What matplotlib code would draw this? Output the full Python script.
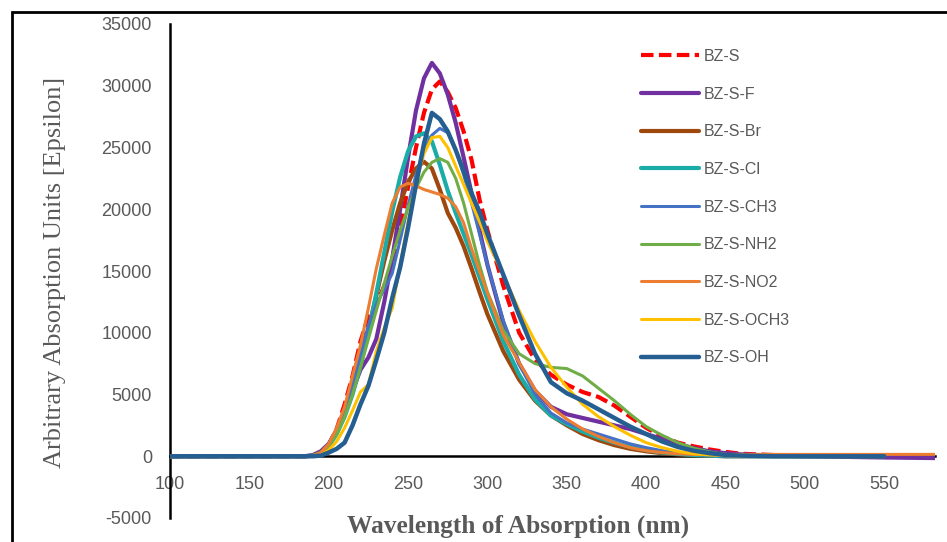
import matplotlib
matplotlib.use("Agg")
import matplotlib.pyplot as plt
import matplotlib.patches as mpatches
import numpy as np

plt.rcParams["axes.unicode_minus"] = False

# ---------------- data ----------------
wavelength = [100, 150, 185, 190, 195, 200, 205, 210, 215, 220, 225, 230, 235, 240,
              245, 250, 255, 260, 265, 270, 275, 280, 285, 290, 295, 300, 310, 320,
              330, 340, 350, 360, 370, 380, 390, 400, 410, 420, 430, 440, 450, 460,
              480, 500, 550]
wavelength_long = wavelength + [583]

bz_s = [0, 0, 0, 50, 300, 900, 2200, 4200, 6500, 9300, 11300, 12300, 13800, 15500,
        18500, 21800, 25000, 27800, 29700, 30350, 29500, 28200, 26300, 24000, 20800,
        18300, 13800, 10000, 7800, 6600, 5800, 5200, 4800, 4100, 3200, 2300, 1600,
        1100, 800, 550, 350, 200, 100, 50, 0]
bz_s_f = [0, 0, 0, 100, 400, 1000, 2100, 3600, 5300, 7000, 8000, 9500, 12500, 16000,
          20000, 24200, 28000, 30600, 31850, 31000, 29300, 27000, 24200, 21300, 18300,
          15500, 10800, 7500, 5300, 4000, 3400, 3100, 2800, 2500, 2200, 1800, 1400,
          1000, 650, 400, 250, 150, 50, 0, -100, -150]
bz_s_br = [0, 0, 0, 50, 300, 900, 2000, 3500, 5500, 7800, 10300, 13000, 15800, 18300,
           20500, 22200, 23300, 23850, 23300, 21600, 19700, 18500, 17000, 15200, 13300,
           11500, 8500, 6200, 4500, 3300, 2500, 1800, 1300, 900, 600, 400, 250, 150,
           100, 50, 0, 0, 0, 0, 0]
bz_s_cl = [0, 0, 0, 50, 250, 800, 1800, 3200, 5000, 7300, 10000, 13200, 16500, 19800,
           22600, 24700, 25900, 26150, 25500, 23600, 21500, 19700, 18000, 16300, 14500,
           12700, 9300, 6600, 4600, 3300, 2600, 2000, 1500, 1100, 750, 500, 300, 200,
           100, 50, 0, 0, 0, 0, 0]
bz_s_ch3 = [0, 0, 0, 50, 300, 900, 2000, 3600, 5600, 8200, 10600, 12300, 13500, 14800,
            17500, 20300, 22800, 24800, 26000, 26550, 26200, 24800, 22800, 20500, 18000,
            15500, 11000, 7500, 5000, 3500, 2700, 2200, 1800, 1400, 1000, 700, 450, 300,
            150, 80, 0, 0, 0, 0, 0]
bz_s_nh2 = [0, 0, 0, 50, 250, 800, 1800, 3200, 5000, 7200, 9500, 11800, 14000, 16200,
            18300, 20100, 21700, 23000, 23800, 24100, 23800, 22500, 20500, 18000, 15500,
            13300, 10200, 8300, 7500, 7200, 7100, 6500, 5500, 4500, 3400, 2400, 1700,
            1100, 650, 350, 150, 50, 0, 0, 0]
bz_s_no2 = [0, 0, 0, 50, 300, 1000, 2300, 4000, 6500, 9000, 12000, 15200, 17900, 20500,
            21800, 22100, 21900, 21600, 21400, 21200, 20900, 20200, 18900, 16800, 15000,
            13200, 9800, 7600, 5400, 4000, 3000, 2200, 1600, 1100, 700, 450, 300, 200,
            150, 150, 150, 150, 150, 150, 150, 150]
bz_s_och3 = [0, 0, 0, 0, 100, 500, 1200, 2300, 3700, 5200, 5800, 8500, 10400, 12000,
             15500, 19000, 22200, 24500, 25800, 25900, 25000, 23500, 22000, 20500, 19000,
             17400, 14700, 11800, 9300, 7200, 5600, 4200, 3200, 2400, 1700, 1100, 700,
             400, 200, 100, 50, 0, 0, 0, 0]
bz_s_oh = [0, 0, 0, 0, 50, 300, 600, 1100, 2500, 4200, 5700, 7800, 10000, 12800, 15300,
           18500, 22000, 25300, 27800, 27300, 26300, 24800, 23100, 21300, 19800, 18000,
           14700, 11400, 8300, 6000, 5100, 4500, 3800, 3100, 2400, 1800, 1200, 750, 450,
           250, 100, 50, 0, 0, 0]

series_names = ["BZ-S", "BZ-S-F", "BZ-S-Br", "BZ-S-Cl", "BZ-S-CH3", "BZ-S-NH2",
                "BZ-S-NO2", "BZ-S-OCH3", "BZ-S-OH"]
series_values = [bz_s, bz_s_f, bz_s_br, bz_s_cl, bz_s_ch3, bz_s_nh2, bz_s_no2,
                 bz_s_och3, bz_s_oh]
series_colors = ["#FF0000", "#7030A0", "#9E480E", "#1AADA8", "#4472C4", "#70AD47",
                 "#ED7D31", "#FFC000", "#255E91"]
series_widths = [3.0, 3.0, 3.0, 3.0, 2.2, 2.2, 2.2, 2.2, 3.2]

x_ticks = [100, 150, 200, 250, 300, 350, 400, 450, 500, 550]
y_ticks = [-5000, 0, 5000, 10000, 15000, 20000, 25000, 30000, 35000]

# ---------------- figure ----------------
W, H = 947, 542
fig = plt.figure(figsize=(W / 100, H / 100), dpi=100)
ax = fig.add_axes([170 / W, 1 - 518 / H, 765 / W, (518 - 24) / H])

for name, vals, col, lw in zip(series_names, series_values, series_colors, series_widths):
    xs = wavelength_long if len(vals) == len(wavelength_long) else wavelength
    if name == "BZ-S":
        ax.plot(xs, vals, color=col, lw=lw, linestyle=(0, (3, 1.3)), label=name,
                zorder=3)
    else:
        ax.plot(xs, vals, color=col, lw=lw, label=name, solid_capstyle="round",
                solid_joinstyle="round", zorder=3)

ax.set_xlim(100, 582)
ax.set_ylim(-5000, 35000)
ax.set_xticks(x_ticks)
ax.set_yticks(y_ticks)

for s in ["top", "right"]:
    ax.spines[s].set_visible(False)
ax.spines["left"].set_linewidth(1.8)
ax.spines["bottom"].set_position(("data", 0))
ax.spines["bottom"].set_linewidth(1.8)
ax.spines["bottom"].set_zorder(2)

ax.tick_params(axis="both", length=0, labelsize=13, labelcolor="#595959")
ax.tick_params(axis="y", pad=13)
ax.tick_params(axis="x", pad=14)
for lab in ax.get_xticklabels() + ax.get_yticklabels():
    lab.set_fontfamily("Liberation Sans")

fig.text(55 / W, 1 - 272 / H, "Arbitrary Absorption Units [Epsilon]", rotation=90,
         ha="center", va="center", fontsize=19, color="#595959",
         fontfamily="Liberation Serif")
fig.text(518 / W, 1 - 526 / H, "Wavelength of Absorption (nm)", ha="center",
         va="center", fontsize=18.3, fontweight="bold", color="#595959",
         fontfamily="Liberation Serif")

leg = fig.legend(loc="upper left", bbox_to_anchor=(641 / W, 1 - 49 / H),
                 bbox_transform=fig.transFigure, frameon=False, borderpad=0,
                 borderaxespad=0, handlelength=3.6, handletextpad=0.35,
                 labelspacing=1.42, prop={"family": "Liberation Sans", "size": 11.5})
for t in leg.get_texts():
    t.set_color("#595959")

# outer frame (top and left edges visible)
fig.patches.append(mpatches.Rectangle((12 / W, -0.5), 2.0, (1 - 12 / H) + 0.5,
                                      transform=fig.transFigure, fill=False,
                                      edgecolor="black", lw=2.0))

fig.savefig("out.png", dpi=100)
